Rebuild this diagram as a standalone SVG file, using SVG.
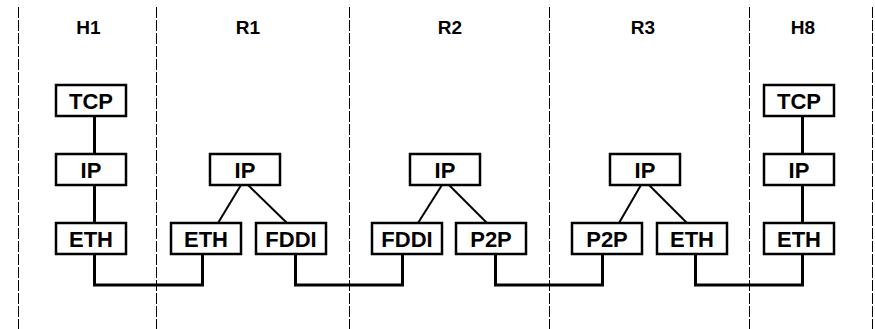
<svg xmlns="http://www.w3.org/2000/svg" width="875" height="329" viewBox="0 0 875 329">
<style>
.bg{fill:#ffffff}
.sep{stroke:#000;stroke-width:1;stroke-dasharray:11,2;fill:none}
.box{fill:#fff;stroke:#000;stroke-width:2.5}
.t{font-family:"Liberation Sans",Arial,sans-serif;font-weight:bold;font-size:22px;text-anchor:middle;fill:#000}
.h{font-family:"Liberation Sans",Arial,sans-serif;font-weight:bold;font-size:19px;text-anchor:middle;fill:#000}
.thick{stroke:#000;stroke-width:3;fill:none}
.thin{stroke:#000;stroke-width:2;fill:none}
</style>
<rect class="bg" x="0" y="0" width="875" height="329"/>
<g id="separators">
<line class="sep" x1="18.5" y1="7" x2="18.5" y2="329"/>
<line class="sep" x1="156.5" y1="7" x2="156.5" y2="329"/>
<line class="sep" x1="349.5" y1="7" x2="349.5" y2="329"/>
<line class="sep" x1="549.5" y1="7" x2="549.5" y2="329"/>
<line class="sep" x1="749.5" y1="7" x2="749.5" y2="329"/>
<line class="sep" x1="872.5" y1="7" x2="872.5" y2="329"/>
</g>
<g id="headers">
<text class="h" x="88.5" y="34">H1</text>
<text class="h" x="248" y="34">R1</text>
<text class="h" x="450" y="34">R2</text>
<text class="h" x="643" y="34">R3</text>
<text class="h" x="803" y="34">H8</text>
</g>
<g id="connectors">
<line class="thick" x1="94.5" y1="116" x2="94.5" y2="154"/>
<line class="thick" x1="94.5" y1="185" x2="94.5" y2="223"/>
<line class="thick" x1="802.5" y1="116" x2="802.5" y2="154"/>
<line class="thick" x1="802.5" y1="185" x2="802.5" y2="223"/>
<polyline class="thick" points="94.5,254 94.5,285 202.5,285 202.5,254"/>
<polyline class="thick" points="295.5,254 295.5,285 402.5,285 402.5,254"/>
<polyline class="thick" points="495.5,254 495.5,285 602.5,285 602.5,254"/>
<polyline class="thick" points="695.5,254 695.5,285 802.5,285 802.5,254"/>
<line class="thin" x1="241" y1="185" x2="218" y2="223"/>
<line class="thin" x1="248" y1="185" x2="287" y2="223"/>
<line class="thin" x1="442" y1="185" x2="418" y2="223"/>
<line class="thin" x1="449" y1="185" x2="487" y2="223"/>
<line class="thin" x1="641" y1="185" x2="619" y2="223"/>
<line class="thin" x1="649" y1="185" x2="687" y2="223"/>
</g>
<g id="h1-tcp"><rect class="box" x="56" y="85" width="70" height="31"/><text class="t" x="91" y="108.5">TCP</text></g>
<g id="h1-ip"><rect class="box" x="56" y="154" width="70" height="31"/><text class="t" x="91" y="177.5">IP</text></g>
<g id="h1-eth"><rect class="box" x="56" y="223" width="70" height="31"/><text class="t" x="91" y="246.5">ETH</text></g>
<g id="r1-ip"><rect class="box" x="210" y="154" width="70" height="31"/><text class="t" x="245" y="177.5">IP</text></g>
<g id="r1-eth"><rect class="box" x="171" y="223" width="70" height="31"/><text class="t" x="206" y="246.5">ETH</text></g>
<g id="r1-fddi"><rect class="box" x="256" y="223" width="70" height="31"/><text class="t" x="291" y="246.5">FDDI</text></g>
<g id="r2-ip"><rect class="box" x="410" y="154" width="70" height="31"/><text class="t" x="445" y="177.5">IP</text></g>
<g id="r2-fddi"><rect class="box" x="372" y="223" width="70" height="31"/><text class="t" x="407" y="246.5">FDDI</text></g>
<g id="r2-p2p"><rect class="box" x="456" y="223" width="70" height="31"/><text class="t" x="491" y="246.5">P2P</text></g>
<g id="r3-ip"><rect class="box" x="610" y="154" width="70" height="31"/><text class="t" x="645" y="177.5">IP</text></g>
<g id="r3-p2p"><rect class="box" x="572" y="223" width="70" height="31"/><text class="t" x="607" y="246.5">P2P</text></g>
<g id="r3-eth"><rect class="box" x="657" y="223" width="70" height="31"/><text class="t" x="692" y="246.5">ETH</text></g>
<g id="h8-tcp"><rect class="box" x="764" y="85" width="70" height="31"/><text class="t" x="799" y="108.5">TCP</text></g>
<g id="h8-ip"><rect class="box" x="764" y="154" width="70" height="31"/><text class="t" x="799" y="177.5">IP</text></g>
<g id="h8-eth"><rect class="box" x="764" y="223" width="70" height="31"/><text class="t" x="799" y="246.5">ETH</text></g>
</svg>
